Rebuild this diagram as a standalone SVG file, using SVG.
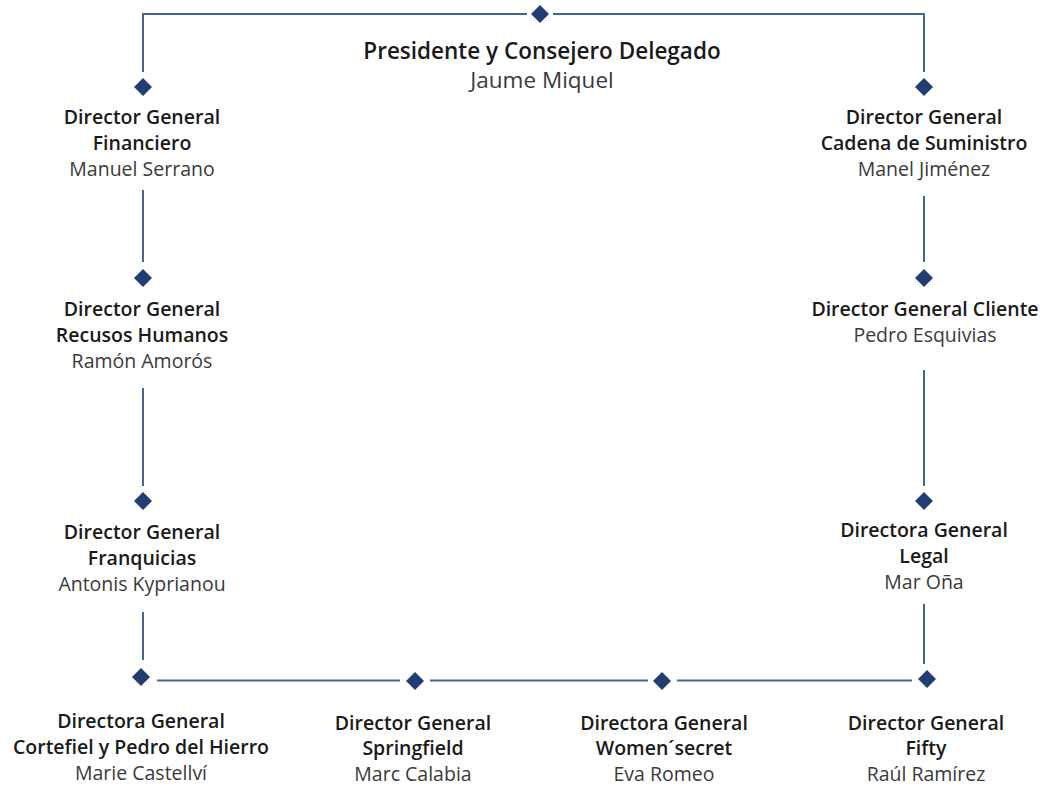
<svg xmlns="http://www.w3.org/2000/svg" width="1042" height="787" viewBox="0 0 1042 787">
<style>
.ln{stroke:#4a6291;stroke-width:2;fill:none}
.dm{fill:#213d73}
text{font-family:"Open Sans",Lato,sans-serif;text-anchor:middle;font-size:19.5px}
.b{font-weight:600;fill:#1a1a1a}
.r{font-weight:400;fill:#3a3a3a}
.t{font-size:22.5px}
</style>
<defs><path id="d" d="M0,-9 L9,0 L0,9 L-9,0Z"/></defs>
<rect width="1042" height="787" fill="#fff"/>
<g id="connectors">
<path class="ln" d="M527,14 H143 V72"/>
<path class="ln" d="M553,14 H924 V72"/>
<path class="ln" d="M143,190 V262 M143,388 V486 M143,612 V660"/>
<path class="ln" d="M924,196 V262 M924,370 V486 M924,604 V664"/>
<path class="ln" d="M157,680.5 H400 M430,680.5 H648 M677,680.5 H912"/>
</g>
<g id="presidente"><use href="#d" class="dm" x="540" y="14"/><text class="b t" x="542" y="59">Presidente y Consejero Delegado</text><text class="r t" x="542" y="88">Jaume Miquel</text></g>
<g id="financiero"><use href="#d" class="dm" x="143" y="87"/><text class="b" x="142" y="124">Director General</text><text class="b" x="142" y="150">Financiero</text><text class="r" x="142" y="176">Manuel Serrano</text></g>
<g id="rrhh"><use href="#d" class="dm" x="143" y="278"/><text class="b" x="142" y="316">Director General</text><text class="b" x="142" y="342">Recusos Humanos</text><text class="r" x="142" y="368">Ramón Amorós</text></g>
<g id="franquicias"><use href="#d" class="dm" x="143" y="501"/><text class="b" x="142" y="539">Director General</text><text class="b" x="142" y="565">Franquicias</text><text class="r" x="142" y="591">Antonis Kyprianou</text></g>
<g id="suministro"><use href="#d" class="dm" x="924" y="87"/><text class="b" x="924" y="124">Director General</text><text class="b" x="924" y="150">Cadena de Suministro</text><text class="r" x="924" y="176">Manel Jiménez</text></g>
<g id="cliente"><use href="#d" class="dm" x="924" y="278"/><text class="b" x="925" y="316">Director General Cliente</text><text class="r" x="925" y="342">Pedro Esquivias</text></g>
<g id="legal"><use href="#d" class="dm" x="924" y="501"/><text class="b" x="924" y="537">Directora General</text><text class="b" x="924" y="563">Legal</text><text class="r" x="924" y="589">Mar Oña</text></g>
<g id="cortefiel"><use href="#d" class="dm" x="141" y="677"/><text class="b" x="141" y="728">Directora General</text><text class="b" x="141" y="754">Cortefiel y Pedro del Hierro</text><text class="r" x="141" y="780">Marie Castellví</text></g>
<g id="springfield"><use href="#d" class="dm" x="415" y="681"/><text class="b" x="413" y="730">Director General</text><text class="b" x="413" y="755">Springfield</text><text class="r" x="413" y="781">Marc Calabia</text></g>
<g id="womensecret"><use href="#d" class="dm" x="662" y="681"/><text class="b" x="664" y="730">Directora General</text><text class="b" x="664" y="755">Women´secret</text><text class="r" x="664" y="781">Eva Romeo</text></g>
<g id="fifty"><use href="#d" class="dm" x="927" y="679"/><text class="b" x="926" y="730">Director General</text><text class="b" x="926" y="755">Fifty</text><text class="r" x="926" y="781">Raúl Ramírez</text></g>
</svg>
